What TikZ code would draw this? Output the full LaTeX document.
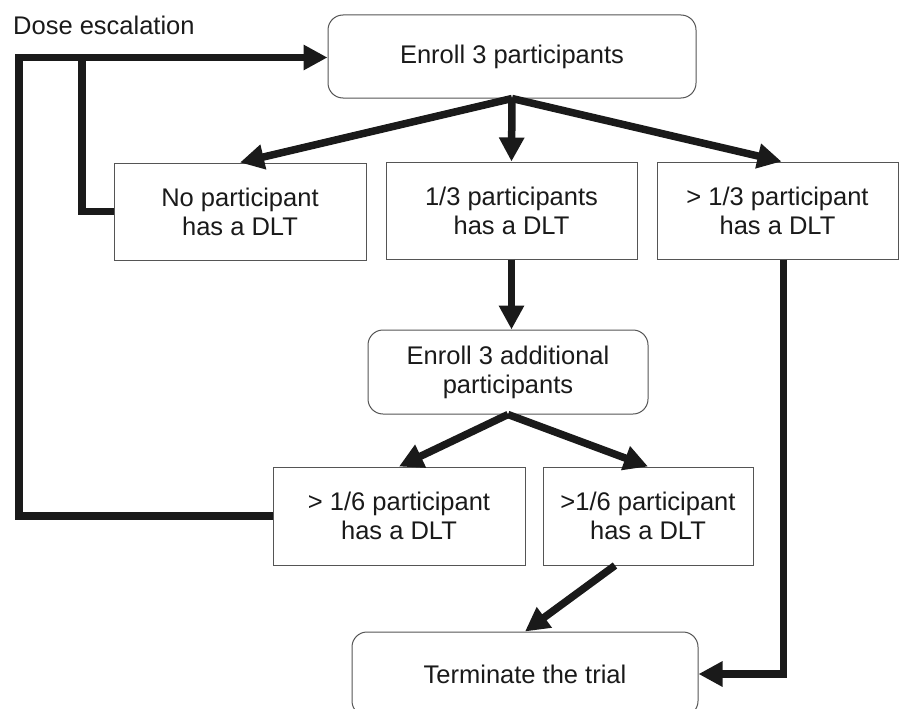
\documentclass[tikz,border=0pt]{standalone}
\usepackage{fontspec}
\setmainfont{Liberation Sans}
\usetikzlibrary{arrows.meta}
\definecolor{boxline}{HTML}{555555}
\definecolor{txt}{HTML}{1A1A1A}
\begin{document}
\begin{tikzpicture}[x=1pt,y=-1pt,
  every node/.style={font=\fontsize{25.5}{29}\selectfont, text=txt},
  sqbox/.style={draw=boxline, line width=1pt, align=center, inner sep=0pt, fill=white},
  rbox/.style={sqbox, rounded corners=15pt},
  conn/.style={line width=7.5pt, draw=txt, -{Triangle[length=24pt,width=24pt]}},
  link/.style={line width=7.5pt, draw=txt}]
\useasboundingbox (0,0) rectangle (899,709);
\clip (0,0) rectangle (899,709);

\node[rbox, minimum width=368pt, minimum height=83pt] (enroll) at (512,56.5) {Enroll 3 participants};
\node[sqbox, minimum width=252pt, minimum height=97pt] (none) at (240,211.5) {No participant\\has a DLT};
\node[sqbox, minimum width=251pt, minimum height=97pt] (one) at (511.5,210.5) {1/3 participants\\has a DLT};
\node[sqbox, minimum width=241pt, minimum height=97pt] (more) at (777.5,210.5) {> 1/3 participant\\has a DLT};
\node[rbox, minimum width=280pt, minimum height=84pt] (add) at (508,372) {Enroll 3 additional\\participants};
\node[sqbox, minimum width=252pt, minimum height=98pt] (left6) at (399,516) {> 1/6 participant\\has a DLT};
\node[sqbox, minimum width=210pt, minimum height=98pt] (right6) at (648,516) {>1/6 participant\\has a DLT};
\node[rbox, minimum width=346pt, minimum height=84pt] (term) at (525,674) {Terminate the trial};
\node[anchor=base west, inner sep=0pt] (dose) at (13,35) {Dose escalation};

\coordinate (lx) at (19,0);
\coordinate (ix) at (82,0);
\draw[conn] (enroll.south) -- (none.north);
\draw[conn] (enroll.south) -- (one.north);
\draw[conn] (enroll.south) -- ([xshift=4pt]more.north);
\draw[conn] (one.south) -- (one.south |- add.north);
\draw[conn] (add.south) -- (left6.north);
\draw[conn] (add.south) -- (right6.north);
\draw[conn] ([xshift=-33pt]right6.south) -- (term.north);
\draw[conn] ([xshift=6pt]more.south) |- (term.east);
\draw[conn] (left6.west) -- (left6.west -| lx) |- ([yshift=-1pt]enroll.west);
\draw[link] (none.west) -- (none.west -| ix) -- (ix |- enroll.west);
\end{tikzpicture}
\end{document}
